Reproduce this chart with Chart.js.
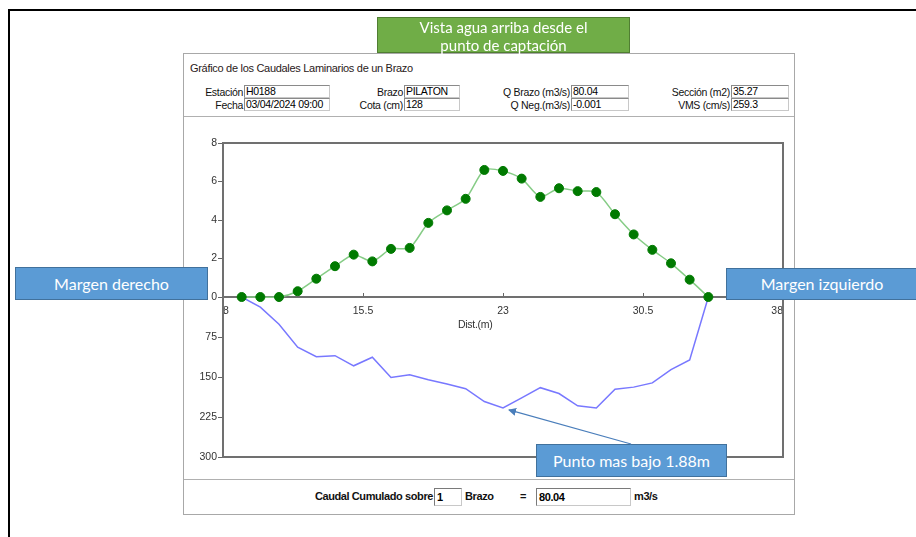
<!DOCTYPE html>
<html>
<head>
<meta charset="utf-8">
<script src="https://cdn.jsdelivr.net/npm/chart.js@4/dist/chart.umd.min.js"></script>
<style>
  html, body { margin:0; padding:0; background:#fff; }
  body { width:916px; height:537px; position:relative; overflow:hidden; font-family:"Liberation Sans", Arial, sans-serif; }
  .abs { position:absolute; }
  #frameTop { left:8px; top:9px; width:908px; height:0; border-top:2px solid #000; }
  #frameLeft { left:8px; top:9px; width:0; height:528px; border-left:2px solid #000; }
  #panel { left:183px; top:53px; width:610px; height:460px; border:1px solid #a8a8a8; background:#fff; }
  .hline { height:0; border-top:1px solid #b0b0b0; }
  .lbl { font-size:10.5px; color:#111; white-space:nowrap; text-align:right; letter-spacing:-0.3px; }
  .box { font-size:10.5px; color:#000; background:#fff; border:1px solid #8a8a8a; border-right-color:#c8c8c8; border-bottom-color:#c8c8c8; box-sizing:border-box; height:13px; line-height:11px; padding-left:1px; white-space:nowrap; letter-spacing:-0.3px; }
  .foot { font-size:11px; font-weight:bold; color:#111; white-space:nowrap; letter-spacing:-0.4px; }
  .fbox { font-size:11px; font-weight:bold; background:#fff; border:1px solid #7a7a7a; border-right-color:#c8c8c8; border-bottom-color:#c8c8c8; box-sizing:border-box; height:18px; line-height:16px; padding-left:2px; letter-spacing:-0.4px; }
  #chartCanvas { position:absolute; left:0; top:0; }
  .callout { color:#fff; font-family:Lato, "Open Sans", sans-serif; text-align:center; box-sizing:border-box; }
  .blue { background:#5b9bd5; border:1px solid #41719c; font-size:16px; }
  .green { background:#70ad47; border:1px solid #507e32; font-size:15px; line-height:18px; }
  #svg { position:absolute; left:0; top:0; pointer-events:none; }
</style>
</head>
<body>
<div id="frameTop" class="abs"></div>
<div id="frameLeft" class="abs"></div>
<div id="panel" class="abs"></div>
<div class="abs hline" style="left:184px; top:116px; width:610px;"></div>
<div class="abs hline" style="left:184px; top:479px; width:610px;"></div>

<div class="abs" style="left:190px; top:62px; font-size:11px; color:#2a2020; letter-spacing:-0.3px; white-space:nowrap;">Gráfico de los Caudales Laminarios de un Brazo</div>

<div class="abs lbl" style="right:673px; top:86px;">Estación</div>
<div class="abs box" style="left:244px; top:85px; width:86px;">H0188</div>
<div class="abs lbl" style="right:673px; top:99px;">Fecha</div>
<div class="abs box" style="left:244px; top:98px; width:86px;">03/04/2024 09:00</div>

<div class="abs lbl" style="right:513px; top:86px;">Brazo</div>
<div class="abs box" style="left:404px; top:85px; width:56px;">PILATON</div>
<div class="abs lbl" style="right:513px; top:99px;">Cota (cm)</div>
<div class="abs box" style="left:404px; top:98px; width:56px;">128</div>

<div class="abs lbl" style="right:346px; top:86px;">Q Brazo (m3/s)</div>
<div class="abs box" style="left:571px; top:85px; width:58px;">80.04</div>
<div class="abs lbl" style="right:346px; top:99px;">Q Neg.(m3/s)</div>
<div class="abs box" style="left:571px; top:98px; width:58px;">-0.001</div>

<div class="abs lbl" style="right:186px; top:86px;">Sección (m2)</div>
<div class="abs box" style="left:731px; top:85px; width:58px;">35.27</div>
<div class="abs lbl" style="right:186px; top:99px;">VMS (cm/s)</div>
<div class="abs box" style="left:731px; top:98px; width:58px;">259.3</div>

<div class="abs foot" style="right:483px; top:490px;">Caudal Cumulado sobre</div>
<div class="abs fbox" style="left:434px; top:488px; width:28px;">1</div>
<div class="abs foot" style="left:465px; top:490px;">Brazo</div>
<div class="abs foot" style="left:520px; top:490px;">=</div>
<div class="abs fbox" style="left:536px; top:488px; width:95px;">80.04</div>
<div class="abs foot" style="left:634px; top:490px;">m3/s</div>

<canvas id="chartCanvas" width="916" height="537"></canvas>

<div class="abs" style="left:458px; top:318px; font-size:10.5px; color:#333; letter-spacing:-0.3px;">Dist.(m)</div>

<div class="abs callout green" style="left:377px; top:17px; width:253px; height:36px; padding-top:0px;">Vista agua arriba desde el<br>punto de captación</div>
<div class="abs callout blue" style="left:15px; top:267px; width:193px; height:33px; line-height:31px;">Margen derecho</div>
<div class="abs callout blue" style="left:726px; top:268px; width:192px; height:32px; line-height:30px;">Margen izquierdo</div>
<div class="abs callout blue" style="left:536px; top:444px; width:191px; height:33px; line-height:31px;">Punto mas bajo 1.88m</div>

<svg id="svg" width="916" height="537">
  <defs>
    <marker id="ah" markerWidth="8" markerHeight="8" refX="1" refY="4" orient="auto" markerUnits="userSpaceOnUse">
      <path d="M8,0 L0,4 L8,8 z" fill="#4a7ebb"/>
    </marker>
  </defs>
  <line id="arrow" x1="631" y1="444" x2="510" y2="409" stroke="#4a7ebb" stroke-width="1.2" marker-start="url(#ah)"/>
</svg>

<script>
// ---- data ----
const dist = [9,10,11,12,13,14,15,16,17,18,19,20,21,22,23,24,25,26,27,28,29,30,31,32,33,34];
const caudal = [0,0,0,0.3,0.95,1.6,2.2,1.85,2.5,2.55,3.85,4.5,5.1,6.6,6.55,6.15,5.2,5.65,5.5,5.45,4.3,3.25,2.45,1.75,0.9,0];
const profundidad = [0,19,51,94,112,110,129,113,151,146,155,163,172,196,208,189,170,181,204,208,173,169,161,136,118,0];
const xTicks = [8,15.5,23,30.5,38];
const yTopTicks = [0,2,4,6,8];
const yBotTicks = [75,150,225,300];

const tickFont = {family:'"Liberation Sans", Arial, sans-serif', size:10.5};

const framePlugin = {
  id:'frame',
  beforeDatasetsDraw(chart){
    const a = chart.chartArea, c = chart.ctx;
    c.save();
    c.strokeStyle = '#707070';
    c.lineWidth = 2;
    c.strokeRect(a.left, a.top, a.right - a.left, a.bottom - a.top);
    c.restore();
  }
};

const chart = new Chart(document.getElementById('chartCanvas'), {
  type:'line',
  data:{
    datasets:[
      {
        label:'Caudal',
        data: dist.map((d,i)=>({x:d, y:caudal[i]})),
        xAxisID:'x', yAxisID:'yTop',
        borderColor:'#86cc86', borderWidth:1.5,
        pointBackgroundColor:'#007a00', pointBorderColor:'#007a00',
        pointRadius:4.5, pointBorderWidth:1,
        tension:0.25, clip:false
      },
      {
        label:'Profundidad',
        data: dist.map((d,i)=>({x:d, y:profundidad[i]})),
        xAxisID:'x', yAxisID:'yBot',
        borderColor:'#7878ff', borderWidth:1.5,
        pointRadius:0, tension:0
      }
    ]
  },
  options:{
    responsive:false, animation:false, devicePixelRatio:1,
    layout:{padding:{left:183, right:133, top:143, bottom:80}},
    plugins:{legend:{display:false}, tooltip:{enabled:false}},
    scales:{
      x:{
        type:'linear', min:8, max:38, position:{yTop:0},
        afterBuildTicks:s=>{ s.ticks = xTicks.map(v=>({value:v})); },
        afterFit:s=>{ s.height = 0; },
        ticks:{align:'inner', padding:13, color:'#333', font:tickFont, autoSkip:false, maxRotation:0},
        grid:{drawOnChartArea:false, drawTicks:true, tickLength:-5, color:'#666', lineWidth:1},
        border:{color:'#707070', width:2}
      },
      yTop:{
        type:'linear', position:'left', stack:'s', stackWeight:154, weight:2,
        min:0, max:8,
        afterBuildTicks:s=>{ s.ticks = yTopTicks.map(v=>({value:v})); },
        afterFit:s=>{ s.width = 40; },
        ticks:{padding:1, color:'#333', font:tickFont},
        grid:{drawOnChartArea:false, tickLength:5, color:'#666'},
        border:{color:'#707070', width:2}
      },
      yBot:{
        type:'linear', position:'left', stack:'s', stackWeight:160, weight:1,
        min:0, max:300, reverse:true,
        afterBuildTicks:s=>{ s.ticks = yBotTicks.map(v=>({value:v})); },
        afterFit:s=>{ s.width = 40; },
        ticks:{padding:1, color:'#333', font:tickFont},
        grid:{drawOnChartArea:false, tickLength:5, color:'#666'},
        border:{color:'#707070', width:2}
      }
    }
  },
  plugins:[framePlugin]
});

// point the arrow at the deepest point using the chart scales
(function(){
  let idx = 0;
  profundidad.forEach((v,i)=>{ if (v > profundidad[idx]) idx = i; });
  const px = chart.scales.x.getPixelForValue(dist[idx]);
  const py = chart.scales.yBot.getPixelForValue(profundidad[idx]);
  const ln = document.getElementById('arrow');
  ln.setAttribute('x2', px + 6);
  ln.setAttribute('y2', py + 2);
  // marker at start of path: swap so arrow head sits at the data point
  ln.setAttribute('x1', px + 6); ln.setAttribute('y1', py + 2);
  ln.setAttribute('x2', 631); ln.setAttribute('y2', 444);
})();
</script>
</body>
</html>
